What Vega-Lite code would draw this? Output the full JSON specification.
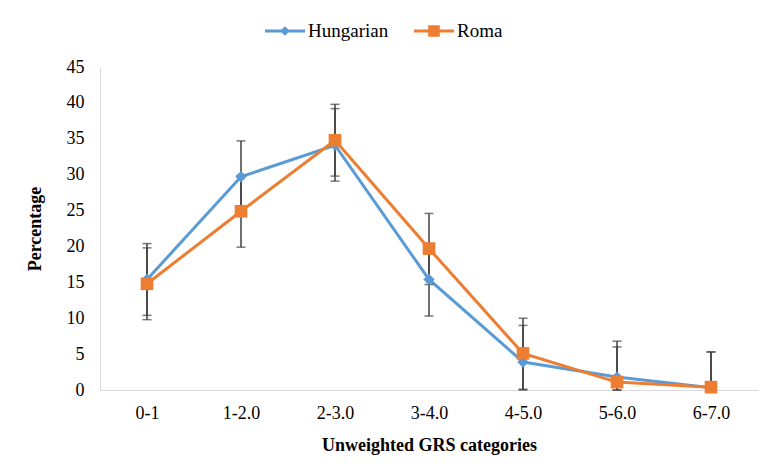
{
  "$schema": "https://vega.github.io/schema/vega-lite/v6.json",
  "width": 658,
  "height": 323,
  "autosize": {"type": "none"},
  "padding": {"left": 100, "top": 67, "right": 7, "bottom": 78},
  "background": "white",
  "data": {
    "values": [
      {"cat": "0-1", "group": "Hungarian", "value": 15.4, "lo": 10.4, "hi": 20.4},
      {"cat": "1-2.0", "group": "Hungarian", "value": 29.7, "lo": 24.7, "hi": 34.7},
      {"cat": "2-3.0", "group": "Hungarian", "value": 34.1, "lo": 29.1, "hi": 39.2},
      {"cat": "3-4.0", "group": "Hungarian", "value": 15.4, "lo": 10.3, "hi": 20.4},
      {"cat": "4-5.0", "group": "Hungarian", "value": 3.9, "lo": 0, "hi": 9.0},
      {"cat": "5-6.0", "group": "Hungarian", "value": 1.8, "lo": 0, "hi": 6.8},
      {"cat": "6-7.0", "group": "Hungarian", "value": 0.3, "lo": 0, "hi": 5.3},
      {"cat": "0-1", "group": "Roma", "value": 14.8, "lo": 9.8, "hi": 19.8},
      {"cat": "1-2.0", "group": "Roma", "value": 24.9, "lo": 19.9, "hi": 29.9},
      {"cat": "2-3.0", "group": "Roma", "value": 34.8, "lo": 29.8, "hi": 39.8},
      {"cat": "3-4.0", "group": "Roma", "value": 19.7, "lo": 14.7, "hi": 24.6},
      {"cat": "4-5.0", "group": "Roma", "value": 5.1, "lo": 0.1, "hi": 10.0},
      {"cat": "5-6.0", "group": "Roma", "value": 1.1, "lo": 0, "hi": 6.0},
      {"cat": "6-7.0", "group": "Roma", "value": 0.4, "lo": 0, "hi": 5.3}
    ]
  },
  "encoding": {
    "x": {
      "field": "cat",
      "type": "ordinal",
      "sort": null,
      "scale": {"type": "point", "padding": 0.5},
      "title": "Unweighted GRS categories",
      "axis": {"labelAngle": 0, "labelPadding": 14, "titlePadding": 14}
    }
  },
  "layer": [
    {
      "mark": {"type": "line", "strokeWidth": 3},
      "encoding": {
        "y": {
          "field": "value",
          "type": "quantitative",
          "scale": {"domain": [0, 45], "nice": false},
          "title": "Percentage"
        },
        "color": {
          "field": "group",
          "type": "nominal",
          "scale": {"domain": ["Hungarian", "Roma"], "range": ["#5B9BD5", "#ED7D31"]}
        }
      }
    },
    {
      "mark": {"type": "rule", "color": "#404040", "strokeWidth": 1.5},
      "encoding": {
        "y": {"field": "lo", "type": "quantitative", "title": "Percentage"},
        "y2": {"field": "hi"}
      }
    },
    {
      "mark": {"type": "tick", "color": "#404040", "thickness": 1.5, "size": 9},
      "encoding": {"y": {"field": "lo", "type": "quantitative", "title": "Percentage"}}
    },
    {
      "mark": {"type": "tick", "color": "#404040", "thickness": 1.5, "size": 9},
      "encoding": {"y": {"field": "hi", "type": "quantitative", "title": "Percentage"}}
    },
    {
      "transform": [{"filter": "datum.group == 'Hungarian'"}],
      "mark": {"type": "point", "shape": "diamond", "filled": true, "opacity": 1, "size": 130, "color": "#5B9BD5"},
      "encoding": {"y": {"field": "value", "type": "quantitative", "title": "Percentage"}}
    },
    {
      "transform": [{"filter": "datum.group == 'Roma'"}],
      "mark": {"type": "point", "shape": "square", "filled": true, "opacity": 1, "size": 160, "color": "#ED7D31"},
      "encoding": {"y": {"field": "value", "type": "quantitative", "title": "Percentage"}}
    },
    {
      "transform": [{"filter": "datum.value < 0"}],
      "mark": {"type": "point", "filled": true, "opacity": 1, "size": 1600},
      "encoding": {
        "y": {"field": "value", "type": "quantitative", "title": "Percentage"},
        "color": {"field": "group", "type": "nominal"},
        "shape": {
          "field": "group",
          "type": "nominal",
          "scale": {
            "domain": ["Hungarian", "Roma"],
            "range": [
              "M-1,-0.075H1V0.075H-1Z M0,-0.24L0.24,0L0,0.24L-0.24,0Z",
              "M-1,-0.075H1V0.075H-1Z M-0.29,-0.29H0.29V0.29H-0.29Z"
            ]
          }
        }
      }
    }
  ],
  "config": {
    "view": {"stroke": null},
    "font": "Liberation Serif",
    "axis": {
      "domainColor": "#d9d9d9",
      "domainWidth": 1,
      "ticks": false,
      "grid": false,
      "labelFont": "Liberation Serif",
      "labelFontSize": 18,
      "labelColor": "#000000",
      "titleFont": "Liberation Serif",
      "titleFontSize": 18,
      "titleFontWeight": "bold",
      "titleColor": "#000000"
    },
    "axisY": {
      "tickCount": 9,
      "labelOverlap": false,
      "labelPadding": 16,
      "titlePadding": 22
    },
    "legend": {
      "title": null,
      "orient": "none",
      "direction": "horizontal",
      "legendX": 165,
      "legendY": -56,
      "columnPadding": 25,
      "symbolSize": 1600,
      "symbolStrokeWidth": 0,
      "labelOffset": 3,
      "labelFont": "Liberation Serif",
      "labelFontSize": 19,
      "labelColor": "#000000"
    }
  }
}
